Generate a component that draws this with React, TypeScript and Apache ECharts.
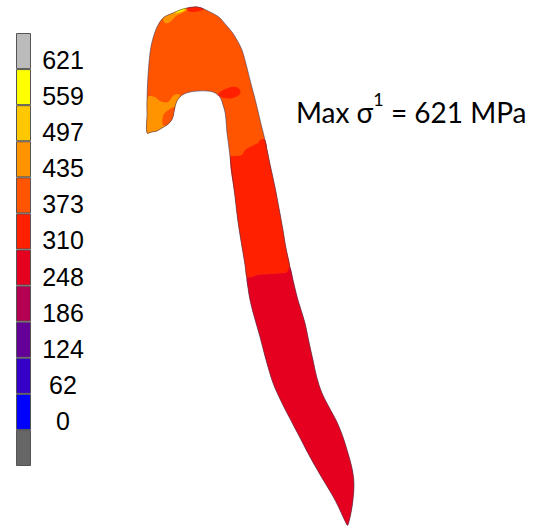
import React, { useEffect, useRef } from "react";
import * as echarts from "echarts";

const legendLabels = ["621", "559", "497", "435", "373", "310", "248", "186", "124", "62", "0", ""];
const legendColors = ["#bbbbbb", "#ffff00", "#ffc800", "#ff9400", "#ff5500", "#ff2000", "#e60020", "#b40050", "#640098", "#3400c8", "#0000ff", "#666666"];
const legendValues = [1, 1, 1, 1, 1, 1, 1, 1, 1, 1, 1, 1];
const annotationParts = ["Max σ", "1", " = 621 MPa"];

const C_YELLOW = "#ffff00", C_AMBER = "#ffc800", C_ORANGE = "#ff9400", C_DEEP = "#ff5500", C_RED = "#ff2000", C_CRIMSON = "#e60020";

const outline: number[][] = [
  [147, 133], [147, 115], [147, 100], [148, 76], [150, 53], [152, 42], [155, 32], [158, 25], [163, 18], [168, 15], [173, 13], [180, 10], [187, 8], [193, 7], [198, 7], [204, 9], [208, 11], [214, 14], [220, 18], [226, 25], [232, 32], [237, 40], [242, 50], [246, 64], [250, 80], [254, 95], [257, 107], [261, 124], [265, 140], [270, 164], [275, 187], [279, 208], [283, 230], [286, 248], [290, 267], [294, 284], [298, 300], [305, 323], [309, 342], [313, 360], [317, 378], [322, 393], [329, 407], [337, 422], [343, 437], [348, 453], [352, 468], [354, 483], [353, 500], [351, 513], [348, 525],
  [347, 525], [335, 500], [322, 478], [310, 457], [298, 434], [287, 413], [280, 399], [273, 383], [266, 360], [260, 337], [254, 316], [250, 300], [248, 288], [245, 265], [242, 247], [238, 222], [235, 197], [231, 165], [228, 140], [227, 133], [226, 120], [225, 112], [223, 105], [221, 99], [218, 95], [213, 92], [207, 91], [198, 91], [190, 92], [184, 94], [180, 97], [177, 101], [175, 107], [174, 112], [173, 117], [171, 121], [167, 125], [162, 128], [157, 131], [152, 132],
];
const redBand: number[][] = [[230, 157], [236, 156], [242, 155], [245, 150], [248, 148], [254, 145], [260, 142], [263, 139], [265, 140], [270, 164], [275, 187], [279, 208], [283, 230], [286, 248], [290, 267], [287, 272], [283, 273], [270, 274], [257, 275], [252, 277], [247, 278], [245, 265], [242, 247], [238, 222], [235, 197]];
const crimsonPart: number[][] = [[247, 278], [252, 277], [257, 275], [270, 274], [283, 273], [287, 272], [290, 267], [294, 284], [298, 300], [305, 323], [309, 342], [313, 360], [317, 378], [322, 393], [329, 407], [337, 422], [343, 437], [348, 453], [352, 468], [354, 483], [353, 500], [351, 513], [348, 525], [347, 525], [335, 500], [322, 478], [310, 457], [298, 434], [287, 413], [280, 399], [273, 383], [266, 360], [260, 337], [254, 316], [250, 300], [248, 288]];
const orangeLeft: number[][] = [[148, 97], [155, 97], [160, 101], [168, 102], [174, 95], [180, 95], [177, 101], [175, 107], [174, 112], [173, 117], [171, 121], [167, 125], [162, 128], [157, 131], [152, 132], [147, 133], [147, 115]];
const deepIsland: number[][] = [[163, 125], [163, 116], [167, 111], [175, 107], [174, 112], [173, 117], [171, 121], [167, 125]];
const orangeTop: number[][] = [[163, 18], [168, 15], [173, 13], [180, 10], [187, 8], [186, 11], [182, 13], [176, 16], [170, 22], [165, 23]];
const amberTop: number[][] = [[173, 13], [180, 10], [186, 8], [184, 11], [178, 13]];
const yellowTop: number[][] = [[176, 12], [180, 10], [185, 8], [184, 10], [179, 12]];
const redTop: number[][] = [[187, 8], [193, 7], [198, 7], [204, 9], [200, 11], [193, 12], [188, 11]];
const redRight: number[][] = [[220, 92], [228, 88], [236, 87], [240, 90], [240, 94], [233, 98], [224, 98], [218, 95]];
const redEdge: number[][] = [[250, 150], [258, 144], [260, 140], [265, 140], [266, 150], [252, 152]];

const zones: { color: string; points: number[][] }[] = [
  { color: C_DEEP, points: outline },
  { color: C_RED, points: redBand },
  { color: C_CRIMSON, points: crimsonPart },
  { color: C_ORANGE, points: orangeLeft },
  { color: C_DEEP, points: deepIsland },
  { color: C_ORANGE, points: orangeTop },
  { color: C_AMBER, points: amberTop },
  { color: C_YELLOW, points: yellowTop },
  { color: C_RED, points: redTop },
  { color: C_RED, points: redRight },
  { color: C_RED, points: redEdge },
];

export default function App() {
  const ref = useRef<HTMLDivElement>(null);
  useEffect(() => {
    document.body.style.margin = "0";
    const chart = echarts.init(ref.current!, null, { renderer: "svg" });
    const polygonSeries = (data: any[], style: (d: any) => any) => ({
      type: "custom" as const,
      xAxisIndex: 0,
      yAxisIndex: 0,
      silent: true,
      clip: false,
      data,
      encode: { x: [], y: [] },
      renderItem: (params: any, api: any) => {
        const d = data[params.dataIndex];
        return {
          type: "polygon",
          shape: { points: d.points.map((p: number[]) => api.coord(p)), smooth: 0.35 },
          style: style(d),
        };
      },
    });
    chart.setOption({
      animation: false,
      backgroundColor: "#ffffff",
      grid: [
        { left: 0, top: 0, width: 541, height: 526 },
        { left: 16, top: 33, width: 15, height: 433 },
        { left: 63, top: 42, width: 1, height: 433 },
      ],
      xAxis: [
        { type: "value", gridIndex: 0, min: 0, max: 541, show: false },
        { type: "value", gridIndex: 1, min: 0, max: 1, show: false },
        { type: "value", gridIndex: 2, min: 0, max: 1, show: false },
      ],
      yAxis: [
        { type: "value", gridIndex: 0, min: 0, max: 526, inverse: true, show: false },
        { type: "category", gridIndex: 1, data: legendLabels, inverse: true, show: false },
        {
          type: "category",
          gridIndex: 2,
          data: legendLabels,
          inverse: true,
          axisLine: { show: false },
          axisTick: { show: false },
          splitLine: { show: false },
          axisLabel: {
            show: true,
            interval: 0,
            margin: 0,
            align: "center",
            verticalAlign: "middle",
            color: "#000000",
            fontFamily: "Liberation Sans",
            fontSize: 25,
          },
        },
      ],
      series: [
        polygonSeries(zones, (d) => ({ fill: d.color, stroke: "none" })),
        polygonSeries([{ points: outline }], () => ({ fill: "none", stroke: "#3a3560", lineWidth: 0.8, opacity: 0.7 })),
        {
          type: "bar",
          xAxisIndex: 1,
          yAxisIndex: 1,
          barWidth: "100%",
          silent: true,
          data: legendValues.map((v, i) => ({ value: v, itemStyle: { color: legendColors[i] } })),
          itemStyle: { borderColor: "#555555", borderWidth: 1 },
        },
        {
          type: "bar",
          xAxisIndex: 2,
          yAxisIndex: 2,
          silent: true,
          data: legendValues.map(() => 0),
          itemStyle: { opacity: 0 },
        },
      ],
      graphic: [
        {
          type: "text",
          x: 296,
          y: 108,
          silent: true,
          style: {
            text: `{a|${annotationParts[0]}}{s|${annotationParts[1]}}{a|${annotationParts[2]}}`,
            verticalAlign: "middle",
            rich: {
              a: { fontFamily: "Lato", fontSize: 28, fill: "#000000", lineHeight: 36, verticalAlign: "bottom" },
              s: { fontFamily: "Lato", fontSize: 18, fill: "#000000", lineHeight: 36, verticalAlign: "top" },
            },
          },
        },
      ],
    });
    return () => chart.dispose();
  }, []);
  return <div ref={ref} style={{ width: 541, height: 526 }} />;
}
